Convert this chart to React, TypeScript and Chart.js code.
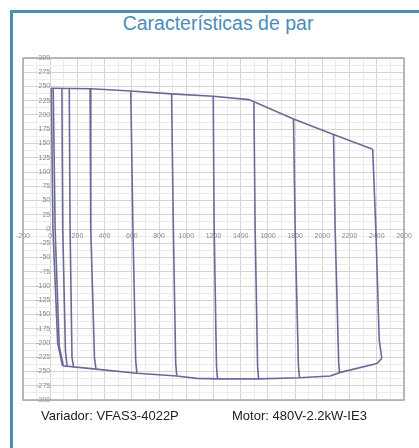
import React, { useEffect, useRef } from "react";
import { Chart, registerables } from "chart.js";

Chart.register(...registerables);

// Speed curves (rpm) for each output frequency
const curveNames = ["15", "30", "90", "150", "300", "600", "900", "1200", "1500", "1800", "2100", "2400"];
const curveTopRpm = [8, 22, 86, 140, 293, 592, 892, 1198, 1497, 1788, 2082, 2370];
const curveTopTorque = [247, 247, 247, 247, 246, 242, 237, 233, 222, 193, 166, 140];
const curveZeroRpm = [20, 36, 92, 146, 298, 608, 905, 1205, 1506, 1800, 2094, 2393];
const curveKneeRpm = [55, 66, 112, 160, 325, 628, 922, 1222, 1524, 1824, 2120, 2418];
const curveKneeTorque = [-200, -205, -215, -225, -225, -230, -235, -240, -240, -240, -235, -195];
const curveBottomRpm = [90, 96, 125, 172, 336, 637, 930, 1229, 1531, 1832, 2126, 2437];
const curveBottomTorque = [-240, -240, -242, -243, -246, -253, -257, -263, -263, -261, -252, -227];

// Torque limit envelopes
const topEnvRpm = [5, 300, 592, 892, 1198, 1460, 1788, 2082, 2370];
const topEnvTorque = [247, 246, 242, 237, 233, 227, 193, 166, 140];
const bottomEnvRpm = [90, 300, 637, 930, 1077, 1229, 1531, 1832, 2058, 2126, 2401, 2437];
const bottomEnvTorque = [-240, -245, -253, -258, -262, -263, -263, -261, -258, -252, -236, -227];

// Axes
const xMin = -200, xMax = 2600, xMinor = 100, xMajor = 200;
const yMin = -300, yMax = 300, yMinor = 12.5, yMajor = 25;

const LINE = "#6a6a98";

const areaBorder = {
  id: "areaBorder",
  afterDraw(chart: any) {
    const { ctx, chartArea } = chart;
    ctx.save();
    ctx.strokeStyle = "#a6a6a6";
    ctx.lineWidth = 1.5;
    ctx.strokeRect(chartArea.left, chartArea.top, chartArea.right - chartArea.left, chartArea.bottom - chartArea.top);
    ctx.restore();
  },
};

export default function App() {
  const ref = useRef<HTMLCanvasElement>(null);

  useEffect(() => {
    if (!ref.current) return;
    const datasets: any[] = curveNames.map((name, i) => ({
      label: name + " rpm",
      data: [
        { x: curveTopRpm[i], y: curveTopTorque[i] },
        { x: curveZeroRpm[i], y: 0 },
        { x: curveKneeRpm[i], y: curveKneeTorque[i] },
        { x: curveBottomRpm[i], y: curveBottomTorque[i] },
      ],
      borderColor: LINE,
      borderWidth: 1.6,
      pointRadius: 0,
      tension: 0,
    }));
    datasets.push({
      label: "top",
      data: topEnvRpm.map((x, i) => ({ x, y: topEnvTorque[i] })),
      borderColor: LINE,
      borderWidth: 1.6,
      pointRadius: 0,
      tension: 0,
    });
    datasets.push({
      label: "bottom",
      data: bottomEnvRpm.map((x, i) => ({ x, y: bottomEnvTorque[i] })),
      borderColor: LINE,
      borderWidth: 1.6,
      pointRadius: 0,
      tension: 0,
    });

    const tickFont = { family: "'Liberation Sans', Arial, sans-serif", size: 7 };
    const chart = new Chart(ref.current, {
      type: "line",
      data: { datasets },
      options: {
        animation: false,
        responsive: false,
        maintainAspectRatio: false,
        layout: { padding: 12 },
        plugins: { legend: { display: false }, tooltip: { enabled: false }, title: { display: false } },
        scales: {
          x: {
            type: "linear",
            min: xMin,
            max: xMax,
            position: { y: 0 } as any,
            border: { display: false },
            grid: {
              drawTicks: false,
              color: (c: any) => (c.tick && c.tick.value % xMajor === 0 ? "#d4d4d4" : "#ececec"),
            },
            ticks: {
              stepSize: xMinor,
              autoSkip: false,
              maxRotation: 0,
              padding: 3,
              color: "#8a8a8a",
              font: tickFont,
              callback: (v: any) => (Number(v) % xMajor === 0 ? String(v) : ""),
            },
          },
          y: {
            type: "linear",
            min: yMin,
            max: yMax,
            position: { x: 0 } as any,
            border: { display: false },
            grid: {
              drawTicks: false,
              color: (c: any) => (c.tick && c.tick.value % yMajor === 0 ? "#d4d4d4" : "#ececec"),
            },
            ticks: {
              stepSize: yMinor,
              autoSkip: false,
              padding: 3,
              color: "#8a8a8a",
              font: tickFont,
              callback: (v: any) => (Number(v) % yMajor === 0 ? String(v) : ""),
            },
          },
        },
      },
      plugins: [areaBorder],
    });
    return () => chart.destroy();
  }, []);

  return (
    <div style={{ position: "absolute", left: 0, top: 0, width: 419, height: 448, background: "#fff", overflow: "hidden", fontFamily: "'Liberation Sans', Arial, sans-serif" }}>
      <div style={{ position: "absolute", left: 10, top: 10, width: 430, height: 460, borderLeft: "3px solid #4e8dba", borderTop: "3px solid #4e8dba" }} />
      <div style={{ position: "absolute", left: 12, top: 13, width: 412, textAlign: "center", fontSize: 19.5, lineHeight: "20px", color: "#4a8dbd" }}>
        Características de par
      </div>
      <canvas ref={ref} width={405} height={366} style={{ position: "absolute", left: 11, top: 46, width: 405, height: 366 }} />
      <div style={{ position: "absolute", left: 41, top: 408, fontSize: 13, lineHeight: "15px", color: "#222", whiteSpace: "nowrap" }}>
        Variador: VFAS3-4022P
      </div>
      <div style={{ position: "absolute", left: 232, top: 408, fontSize: 13, lineHeight: "15px", color: "#222", whiteSpace: "nowrap" }}>
        Motor: 480V-2.2kW-IE3
      </div>
    </div>
  );
}
